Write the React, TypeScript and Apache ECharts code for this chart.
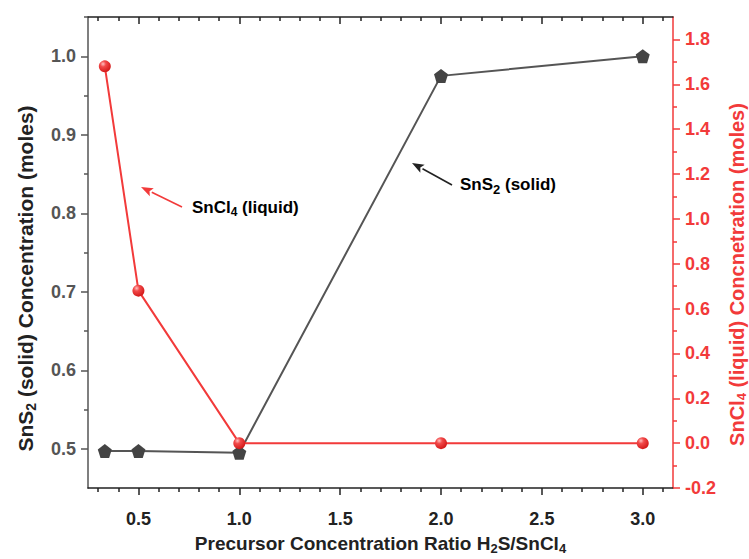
import React, { useEffect, useRef } from "react";
import * as echarts from "echarts";

// ---- data ----
const ratios = [1 / 3, 0.5, 1.0, 2.0, 3.0];
const sns2Solid = [0.497, 0.497, 0.495, 0.975, 1.0];
const sncl4Liquid = [1.68, 0.68, 0.0, 0.0, 0.0];

// ---- ticks ----
const xMajorTicks = [0.5, 1.0, 1.5, 2.0, 2.5, 3.0];
const xMinorTicks = [0.3, 0.4, 0.6, 0.7, 0.8, 0.9, 1.1, 1.2, 1.3, 1.4, 1.6, 1.7, 1.8, 1.9, 2.1, 2.2, 2.3, 2.4, 2.6, 2.7, 2.8, 2.9, 3.1];
const yLeftMajorTicks = [0.5, 0.6, 0.7, 0.8, 0.9, 1.0];
const yLeftMinorTicks = [0.55, 0.65, 0.75, 0.85, 0.95, 1.05];
const yRightMajorTicks = [-0.2, 0.0, 0.2, 0.4, 0.6, 0.8, 1.0, 1.2, 1.4, 1.6, 1.8];
const yRightMinorTicks = [-0.1, 0.1, 0.3, 0.5, 0.7, 0.9, 1.1, 1.3, 1.5, 1.7];

const RED = "#f23a3a";
const BLACK = "#222";
const GRAY = "#555";
const FONT = "'Liberation Sans', Arial, sans-serif";
const TICK_FONT = 18;

const pentagon = "path://M0,-1 L0.951,-0.309 L0.588,0.809 L-0.588,0.809 L-0.951,-0.309 Z";

function richStyles(color: string, size: number, subSize: number, shift: number) {
  return {
    b: { fontSize: size, fontWeight: "bold", color, fontFamily: FONT },
    s: { fontSize: subSize, fontWeight: "bold", color, fontFamily: FONT, padding: [shift, 0, 0, 0] },
  };
}

function arrow(x1: number, y1: number, x2: number, y2: number, color: string) {
  const dx = x2 - x1, dy = y2 - y1;
  const len = Math.sqrt(dx * dx + dy * dy);
  const ux = dx / len, uy = dy / len;
  const L = 12, W = 4.5;
  const bx = x2 - ux * L, by = y2 - uy * L;
  return [
    { type: "line", shape: { x1, y1, x2: bx, y2: by }, style: { stroke: color, lineWidth: 1.6 }, z: 10 },
    {
      type: "polygon",
      shape: { points: [[x2, y2], [bx - uy * W, by + ux * W], [bx + ux * 2.5, by + uy * 2.5], [bx + uy * W, by - ux * W]] },
      style: { fill: color },
      z: 10,
    },
  ];
}

export default function App() {
  const ref = useRef<HTMLDivElement>(null);
  useEffect(() => {
    if (!ref.current) return;
    const chart = echarts.init(ref.current, null, { renderer: "svg" });
    const fmt = (v: number) => v.toFixed(1);
    const xCommon = { type: "value", min: 0.25, max: 3.15, splitLine: { show: false } };
    const tickLabel = (color: string, margin: number) => ({
      formatter: fmt, color, fontWeight: "bold", fontSize: TICK_FONT, fontFamily: FONT, margin,
    });
    const option: any = {
      animation: false,
      backgroundColor: "#fff",
      grid: { left: 88, right: 76, top: 17, bottom: 71, containLabel: false, outerBoundsMode: "none" },
      xAxis: [
        {
          ...xCommon,
          position: "bottom",
          axisLine: { onZero: false, lineStyle: { color: BLACK, width: 1.5 } },
          axisTick: { customValues: xMajorTicks, length: 7, lineStyle: { color: BLACK, width: 1.5 } },
          axisLabel: { customValues: xMajorTicks, ...tickLabel(BLACK, 22) },
          name: "{b|Precursor Concentration Ratio H}{s|2}{b|S/SnCl}{s|4}",
          nameLocation: "middle",
          nameGap: 44,
          nameTextStyle: { rich: richStyles(BLACK, 19, 13, 10) },
        },
        {
          ...xCommon,
          position: "bottom",
          axisLine: { show: false, onZero: false },
          axisTick: { customValues: xMinorTicks, length: 4, lineStyle: { color: BLACK, width: 1.5 } },
          axisLabel: { show: false },
        },
        {
          ...xCommon,
          position: "top",
          axisLine: { onZero: false, lineStyle: { color: BLACK, width: 1.5 } },
          axisTick: { inside: true, customValues: xMajorTicks, length: 7, lineStyle: { color: BLACK, width: 1.5 } },
          axisLabel: { show: false },
        },
        {
          ...xCommon,
          position: "top",
          axisLine: { show: false, onZero: false },
          axisTick: { inside: true, customValues: xMinorTicks, length: 4, lineStyle: { color: BLACK, width: 1.5 } },
          axisLabel: { show: false },
        },
      ],
      yAxis: [
        {
          type: "value",
          position: "left",
          min: 0.45,
          max: 1.05,
          splitLine: { show: false },
          axisLine: { show: true, onZero: false, lineStyle: { color: GRAY, width: 1.5 } },
          axisTick: { show: true, customValues: yLeftMajorTicks, length: 7, lineStyle: { color: GRAY, width: 1.5 } },
          axisLabel: { customValues: yLeftMajorTicks, ...tickLabel(GRAY, 12) },
          name: "{b|SnS}{s|2}{b| (solid) Concentration (moles)}",
          nameLocation: "middle",
          nameGap: 50,
          nameTextStyle: { rich: richStyles(BLACK, 21, 14, 11), padding: [0, 52, 0, 0] },
        },
        {
          type: "value",
          position: "right",
          min: -0.2,
          max: 1.9,
          splitLine: { show: false },
          axisLine: { show: true, onZero: false, lineStyle: { color: RED, width: 1.5 } },
          axisTick: { show: true, customValues: yRightMajorTicks, length: 7, lineStyle: { color: RED, width: 1.5 } },
          axisLabel: { customValues: yRightMajorTicks, ...tickLabel(RED, 12) },
          name: "{b|SnCl}{s|4}{b| (liquid) Concnetration (moles)}",
          nameLocation: "middle",
          nameGap: 42,
          nameRotate: 90,
          nameTextStyle: { rich: richStyles(RED, 20, 13, 10), padding: [0, 44, 0, 0] },
        },
        {
          type: "value",
          position: "left",
          min: 0.45,
          max: 1.05,
          splitLine: { show: false },
          axisLine: { show: false, onZero: false },
          axisTick: { show: true, customValues: yLeftMinorTicks, length: 4, lineStyle: { color: GRAY, width: 1.5 } },
          axisLabel: { show: false },
        },
        {
          type: "value",
          position: "right",
          min: -0.2,
          max: 1.9,
          splitLine: { show: false },
          axisLine: { show: false, onZero: false },
          axisTick: { show: true, customValues: yRightMinorTicks, length: 4, lineStyle: { color: RED, width: 1.5 } },
          axisLabel: { show: false },
        },
      ],
      series: [
        {
          type: "line",
          xAxisIndex: 0,
          yAxisIndex: 0,
          data: ratios.map((x, i) => [x, sns2Solid[i]]),
          symbol: pentagon,
          symbolSize: 14,
          itemStyle: { color: "#444" },
          lineStyle: { color: GRAY, width: 2 },
          z: 3,
        },
        {
          type: "line",
          xAxisIndex: 0,
          yAxisIndex: 1,
          data: ratios.map((x, i) => [x, sncl4Liquid[i]]),
          symbol: "circle",
          symbolSize: 12,
          itemStyle: {
            color: new echarts.graphic.RadialGradient(0.35, 0.3, 0.7, [
              { offset: 0, color: "#ffc0c0" },
              { offset: 0.35, color: "#f24a4a" },
              { offset: 1, color: "#d41a1a" },
            ]),
          },
          lineStyle: { color: RED, width: 2 },
          z: 4,
        },
      ],
      graphic: [
        ...arrow(182, 207, 141, 187, RED),
        {
          type: "text",
          x: 192,
          y: 207,
          z: 10,
          style: {
            text: "{b|SnCl}{s|4}{b| (liquid)}",
            rich: richStyles(RED, 17, 12, 10),
            verticalAlign: "middle",
          },
        },
        ...arrow(452, 185, 412, 163, BLACK),
        {
          type: "text",
          x: 460,
          y: 184,
          z: 10,
          style: {
            text: "{b|SnS}{s|2}{b| (solid)}",
            rich: richStyles(BLACK, 17, 13, 10),
            verticalAlign: "middle",
          },
        },
      ],
    };
    chart.setOption(option);
    return () => chart.dispose();
  }, []);
  return (
    <div
      ref={ref}
      style={{ position: "fixed", left: 0, top: 0, width: 749, height: 559, background: "#fff" }}
    />
  );
}
